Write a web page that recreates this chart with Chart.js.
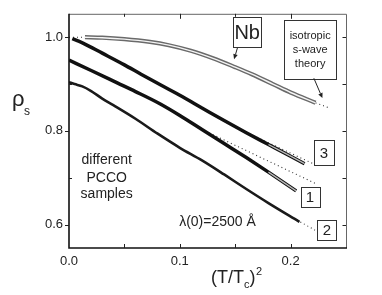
<!DOCTYPE html>
<html><head><meta charset="utf-8">
<script src="https://cdn.jsdelivr.net/npm/chart.js@4.4.0/dist/chart.umd.min.js"></script>
<style>html,body{margin:0;padding:0;background:#fff}canvas{display:block}</style>
</head><body>
<canvas id="c" width="382" height="295"></canvas>
<script>
// ---- data ----
const xTickLabels = [0.0, 0.1, 0.2];
const yTickLabels = [0.6, 0.8, 1.0];

const nbT2  = [0.0144, 0.03, 0.05, 0.073, 0.09, 0.11, 0.13, 0.15, 0.165, 0.184, 0.2, 0.2225];
const nbRho = [1.000, 0.999, 0.996, 0.990, 0.983, 0.971, 0.955, 0.936, 0.921, 0.900, 0.882, 0.860];

const s3T2  = [0.003, 0.008, 0.013, 0.03, 0.05, 0.065, 0.082, 0.1, 0.12, 0.14, 0.16, 0.18, 0.2, 0.2126];
const s3Rho = [0.997, 0.992, 0.987, 0.966, 0.941, 0.921, 0.899, 0.876, 0.849, 0.822, 0.796, 0.771, 0.746, 0.730];

const s1T2  = [0, 0.02, 0.044, 0.06, 0.082, 0.1, 0.12, 0.14, 0.16, 0.18, 0.205];
const s1Rho = [0.951, 0.929, 0.902, 0.884, 0.858, 0.833, 0.803, 0.773, 0.743, 0.712, 0.672];

const s2T2  = [0, 0.005, 0.012, 0.02, 0.03, 0.04, 0.06, 0.08, 0.1, 0.12, 0.14, 0.16, 0.18, 0.208];
const s2Rho = [0.904, 0.900, 0.895, 0.885, 0.869, 0.855, 0.826, 0.794, 0.764, 0.737, 0.707, 0.676, 0.646, 0.606];

// isotropic s-wave theory (dotted)
const nbThT2a = [0, 0.014],      nbThRhoa = [1.0, 1.0];
const nbThT2b = [0.2225, 0.236], nbThRhob = [0.860, 0.848];
const s3ThT2 = [0.15, 0.223],    s3ThRho = [0.808, 0.727];
const s1ThT2 = [0.12, 0.224],    s1ThRho = [0.803, 0.686];
const s2ThT2 = [0.19, 0.222],    s2ThRho = [0.631, 0.588];

// ---- helpers ----
const pts = (xs, ys) => xs.map((v, i) => ({x: v, y: ys[i]}));
const tail = (xs, ys, from) => pts(xs, ys).filter(p => p.x >= from);
const FONT = "'Liberation Sans', Arial, Helvetica, sans-serif";

function line(data, color, width, extra) {
  return Object.assign({data, borderColor: color, borderWidth: width, showLine: true,
    pointRadius: 0, fill: false, cubicInterpolationMode: 'monotone'}, extra || {});
}
function dotted(data) {
  return line(data, '#333', 1.1, {borderDash: [1, 3], cubicInterpolationMode: 'default', tension: 0});
}

const datasets = [
  // light cores (drawn on top) for the open-circle look
  line(pts(nbT2, nbRho), '#f4f4f4', 1.4),
  line(tail(s3T2, s3Rho, 0.18), '#b8b8b8', 1.3),
  line(tail(s1T2, s1Rho, 0.17), '#b8b8b8', 1.3),
  // curves
  line(pts(nbT2, nbRho), '#6a6a6a', 4.2),
  line(pts(s3T2, s3Rho), '#111111', 3.5),
  line(pts(s1T2, s1Rho), '#111111', 3.5),
  line(pts(s2T2, s2Rho), '#1a1a1a', 2.6),
  // theory
  dotted(pts(nbThT2a, nbThRhoa)),
  dotted(pts(nbThT2b, nbThRhob)),
  dotted(pts(s3ThT2, s3ThRho)),
  dotted(pts(s1ThT2, s1ThRho)),
  dotted(pts(s2ThT2, s2ThRho)),
];

// annotations, in data coordinates
const boxes = [
  {x0: 0.148, x1: 0.1736, y0: 1.0423, y1: 0.978, lines: ['Nb'], size: 20, lh: 0},
  {x0: 0.1943, x1: 0.241, y0: 1.0375, y1: 0.9125, lines: ['isotropic', 's-wave', 'theory'], size: 11, lh: 14},
  {x0: 0.2211, x1: 0.2392, y0: 0.7806, y1: 0.7265, lines: ['3'], size: 15, lh: 0},
  {x0: 0.2091, x1: 0.2259, y0: 0.681, y1: 0.6375, lines: ['1'], size: 15, lh: 0},
  {x0: 0.2241, x1: 0.2416, y0: 0.6098, y1: 0.5667, lines: ['2'], size: 15, lh: 0},
];
const arrows = [
  {x0: 0.1520, y0: 0.977, x1: 0.1490, y1: 0.953},
  {x0: 0.2210, y0: 0.9125, x1: 0.2287, y1: 0.870},
];
const texts = [
  {x: 0.0340, y: 0.737, t: 'different', size: 14},
  {x: 0.0340, y: 0.699, t: 'PCCO', size: 14},
  {x: 0.0340, y: 0.664, t: 'samples', size: 14},
  {x: 0.1340, y: 0.606, t: 'λ(0)=2500 Å', size: 14},
];

const deco = {
  id: 'deco',
  afterDraw(chart) {
    const {ctx, chartArea: a, scales: {x, y}} = chart;
    const X = v => x.getPixelForValue(v), Y = v => y.getPixelForValue(v);
    ctx.save();
    // frame
    ctx.strokeStyle = '#666'; ctx.lineWidth = 1;
    ctx.beginPath(); ctx.moveTo(a.left, a.top + 0.5); ctx.lineTo(a.right + 0.5, a.top + 0.5);
    ctx.lineTo(a.right + 0.5, a.bottom); ctx.stroke();
    ctx.strokeStyle = '#111'; ctx.lineWidth = 1.6;
    ctx.beginPath(); ctx.moveTo(a.left, a.top); ctx.lineTo(a.left, a.bottom); ctx.lineTo(a.right + 1, a.bottom); ctx.stroke();
    // ticks
    ctx.lineWidth = 1; ctx.strokeStyle = '#222';
    ctx.beginPath();
    [0.05, 0.1, 0.15, 0.2].forEach(v => {
      const px = Math.round(X(v)) + 0.5, maj = Math.abs(v * 10 - Math.round(v * 10)) < 1e-6;
      ctx.moveTo(px, a.bottom); ctx.lineTo(px, a.bottom - 4);
      ctx.moveTo(px, a.top); ctx.lineTo(px, a.top + (maj ? 5 : 3));
    });
    [0.6, 0.7, 0.8, 0.9, 1.0].forEach(v => {
      const py = Math.round(Y(v)) + 0.5, maj = [0.6, 0.8, 1.0].some(m => Math.abs(m - v) < 1e-6);
      if (maj) { ctx.moveTo(a.left - 4, py); ctx.lineTo(a.left, py); }
      else { ctx.moveTo(a.left, py); ctx.lineTo(a.left + 3, py); }
      ctx.moveTo(a.right, py); ctx.lineTo(a.right - 3.5, py);
    });
    ctx.stroke();
    // axis titles
    ctx.fillStyle = '#222'; ctx.textBaseline = 'alphabetic'; ctx.textAlign = 'left';
    ctx.font = `22px ${FONT}`; ctx.fillText('ρ', 12, 106);
    ctx.font = `12px ${FONT}`; ctx.fillText('s', 24, 115);
    ctx.font = `18px ${FONT}`;
    let cx = 211; ctx.fillText('(T/T', cx, 283); cx += ctx.measureText('(T/T').width;
    ctx.font = `11px ${FONT}`; ctx.fillText('c', cx, 288); cx += ctx.measureText('c').width;
    ctx.font = `18px ${FONT}`; ctx.fillText(')', cx, 283); cx += ctx.measureText(')').width;
    ctx.font = `11px ${FONT}`; ctx.fillText('2', cx + 0.5, 275);
    // boxes
    boxes.forEach(b => {
      const l = X(b.x0), r = X(b.x1), t = Y(b.y0), bt = Y(b.y1);
      ctx.fillStyle = '#fff'; ctx.fillRect(l, t, r - l, bt - t);
      ctx.strokeStyle = '#333'; ctx.lineWidth = 1;
      ctx.strokeRect(Math.round(l) + 0.5, Math.round(t) + 0.5, Math.round(r - l), Math.round(bt - t));
      ctx.fillStyle = '#222'; ctx.textAlign = 'center'; ctx.textBaseline = 'middle';
      ctx.font = `${b.size}px ${FONT}`;
      const cxm = (l + r) / 2, cym = (t + bt) / 2, n = b.lines.length;
      b.lines.forEach((s, i) => ctx.fillText(s, cxm, cym + (i - (n - 1) / 2) * b.lh + 1));
    });
    // arrows
    arrows.forEach(ar => {
      const x0 = X(ar.x0), y0 = Y(ar.y0), x1 = X(ar.x1), y1 = Y(ar.y1);
      const ang = Math.atan2(y1 - y0, x1 - x0), hl = 5, hw = 2.3;
      const bx = x1 - hl * Math.cos(ang), by = y1 - hl * Math.sin(ang);
      ctx.strokeStyle = '#222'; ctx.lineWidth = 1;
      ctx.beginPath(); ctx.moveTo(x0, y0); ctx.lineTo(bx, by); ctx.stroke();
      ctx.fillStyle = '#222'; ctx.beginPath();
      ctx.moveTo(x1, y1);
      ctx.lineTo(bx + hw * Math.sin(ang), by - hw * Math.cos(ang));
      ctx.lineTo(bx - hw * Math.sin(ang), by + hw * Math.cos(ang));
      ctx.closePath(); ctx.fill();
    });
    // free texts
    texts.forEach(tt => {
      ctx.fillStyle = '#222'; ctx.textAlign = 'center'; ctx.textBaseline = 'middle';
      ctx.font = `${tt.size}px ${FONT}`; ctx.fillText(tt.t, X(tt.x), Y(tt.y));
    });
    ctx.restore();
  }
};

new Chart(document.getElementById('c'), {
  type: 'scatter',
  data: {datasets},
  options: {
    responsive: false, animation: false, devicePixelRatio: 1,
    layout: {padding: {top: 8, right: 36, left: 0, bottom: 0}},
    plugins: {legend: {display: false}, tooltip: {enabled: false}},
    scales: {
      x: {
        type: 'linear', min: 0, max: 0.25,
        grid: {display: false, drawTicks: false}, border: {display: false},
        afterBuildTicks: s => { s.ticks = xTickLabels.map(v => ({value: v})); },
        afterFit: s => { s.height = 47; },
        ticks: {callback: v => Number(v).toFixed(1), font: {family: FONT, size: 13}, color: '#222', padding: 6, maxRotation: 0, autoSkip: false}
      },
      y: {
        type: 'linear', min: 0.55, max: 1.05,
        grid: {display: false, drawTicks: false}, border: {display: false},
        afterBuildTicks: s => { s.ticks = yTickLabels.map(v => ({value: v})); },
        afterFit: s => { s.width = 69; },
        ticks: {callback: v => Number(v).toFixed(1), font: {family: FONT, size: 13}, color: '#222', padding: 6, autoSkip: false}
      }
    }
  },
  plugins: [deco]
});
</script>
</body></html>
